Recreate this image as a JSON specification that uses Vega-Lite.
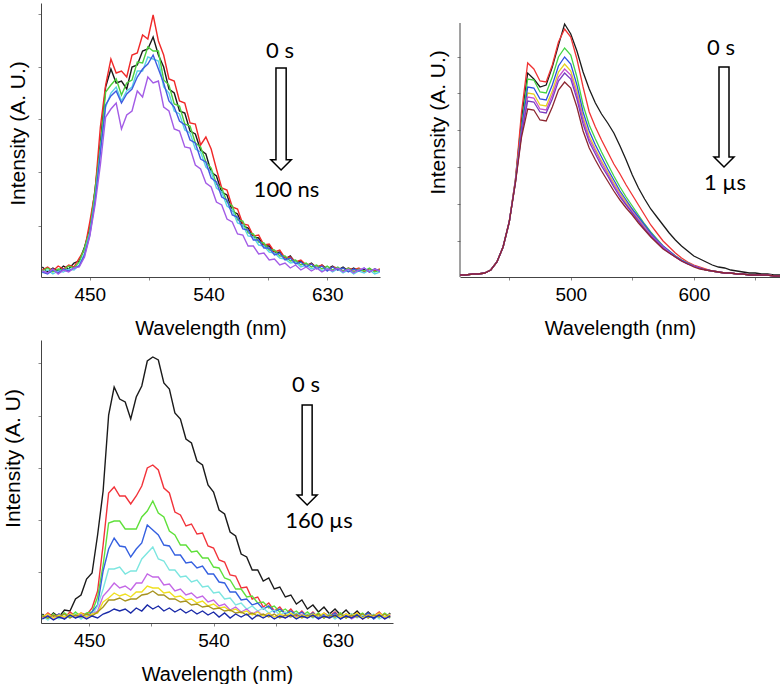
{
"$schema":"https://vega.github.io/schema/vega-lite/v6.json",
"padding":{"left":2,"top":3,"right":0,"bottom":0},
"config":{"view":{"stroke":null},"font":"Liberation Sans",
"axis":{"grid":false,"domainColor":"#444","tickColor":"#888","tickSize":3,"labelFont":"Liberation Sans Narrow, Liberation Sans","labelFontSize":19,"labelColor":"#000","labelPadding":5,"titleFont":"Liberation Sans","titleFontWeight":"normal","titleFontSize":20,"titleColor":"#000","titlePadding":14}},
"datasets":{
"p1":[
{"w":414,"k":10,"r":7,"g":6,"c":4,"b":5,"v":6},
{"w":418,"k":5,"r":10,"g":9,"c":7,"b":3,"v":4},
{"w":422,"k":9,"r":6,"g":5,"c":3,"b":7,"v":8},
{"w":426,"k":6,"r":11,"g":8,"c":6,"b":4,"v":3},
{"w":430,"k":11,"r":8,"g":7,"c":5,"b":8,"v":7},
{"w":434,"k":8,"r":12,"g":11,"c":8,"b":6,"v":5},
{"w":438,"k":14,"r":10,"g":9,"c":7,"b":9,"v":9},
{"w":442,"k":16,"r":19,"g":15,"c":12,"b":11,"v":10},
{"w":446,"k":30,"r":27,"g":29,"c":24,"b":22,"v":20},
{"w":450,"k":48,"r":55,"g":46,"c":44,"b":42,"v":41},
{"w":454,"k":88,"r":86,"g":86,"c":78,"b":76,"v":72},
{"w":458,"k":134,"r":150,"g":130,"c":126,"b":124,"v":112},
{"w":462,"k":190,"r":192,"g":185,"c":170,"b":172,"v":160},
{"w":466,"k":208,"r":218,"g":192,"c":184,"b":181,"v":168},
{"w":470,"k":194,"r":204,"g":198,"c":190,"b":186,"v":174},
{"w":474,"k":196,"r":206,"g":182,"c":176,"b":174,"v":148},
{"w":478,"k":188,"r":200,"g":194,"c":186,"b":183,"v":162},
{"w":482,"k":210,"r":222,"g":197,"c":190,"b":188,"v":166},
{"w":486,"k":212,"r":224,"g":215,"c":206,"b":200,"v":186},
{"w":490,"k":226,"r":242,"g":214,"c":206,"b":208,"v":180},
{"w":494,"k":228,"r":238,"g":230,"c":220,"b":213,"v":200},
{"w":498,"k":240,"r":262,"g":226,"c":218,"b":222,"v":194},
{"w":502,"k":222,"r":236,"g":226,"c":216,"b":208,"v":196},
{"w":506,"k":210,"r":222,"g":197,"c":190,"b":194,"v":170},
{"w":510,"k":188,"r":198,"g":192,"c":184,"b":176,"v":166},
{"w":514,"k":184,"r":196,"g":173,"c":166,"b":170,"v":148},
{"w":518,"k":166,"r":176,"g":171,"c":163,"b":156,"v":146},
{"w":522,"k":164,"r":174,"g":153,"c":147,"b":152,"v":130},
{"w":526,"k":146,"r":154,"g":151,"c":144,"b":137,"v":129},
{"w":530,"k":143,"r":153,"g":134,"c":128,"b":134,"v":112},
{"w":534,"k":127,"r":132,"g":130,"c":125,"b":118,"v":108},
{"w":538,"k":123,"r":140,"g":115,"c":110,"b":115,"v":94},
{"w":542,"k":105,"r":128,"g":109,"c":105,"b":99,"v":90},
{"w":546,"k":101,"r":108,"g":93,"c":89,"b":95,"v":75},
{"w":550,"k":85,"r":89,"g":89,"c":85,"b":80,"v":72},
{"w":554,"k":82,"r":87,"g":75,"c":71,"b":77,"v":58},
{"w":558,"k":66,"r":70,"g":71,"c":67,"b":62,"v":55},
{"w":562,"k":63,"r":68,"g":57,"c":54,"b":60,"v":43},
{"w":566,"k":51,"r":53,"g":56,"c":52,"b":48,"v":42},
{"w":570,"k":49,"r":52,"g":44,"c":41,"b":47,"v":31},
{"w":574,"k":40,"r":41,"g":43,"c":40,"b":37,"v":31},
{"w":578,"k":39,"r":42,"g":35,"c":32,"b":37,"v":23},
{"w":582,"k":31,"r":32,"g":34,"c":31,"b":29,"v":24},
{"w":586,"k":31,"r":33,"g":27,"c":25,"b":29,"v":17},
{"w":590,"k":24,"r":25,"g":27,"c":24,"b":22,"v":18},
{"w":594,"k":25,"r":27,"g":21,"c":19,"b":24,"v":12},
{"w":598,"k":18,"r":19,"g":21,"c":18,"b":17,"v":14},
{"w":602,"k":21,"r":20,"g":16,"c":14,"b":19,"v":9},
{"w":606,"k":14,"r":15,"g":17,"c":15,"b":13,"v":12},
{"w":610,"k":16,"r":17,"g":12,"c":10,"b":15,"v":7},
{"w":614,"k":11,"r":12,"g":14,"c":12,"b":10,"v":10},
{"w":618,"k":14,"r":13,"g":10,"c":8,"b":13,"v":6},
{"w":622,"k":9,"r":10,"g":12,"c":10,"b":8,"v":9},
{"w":626,"k":12,"r":12,"g":8,"c":6,"b":11,"v":5},
{"w":630,"k":8,"r":7,"g":11,"c":9,"b":6,"v":8},
{"w":634,"k":11,"r":10,"g":7,"c":5,"b":10,"v":6},
{"w":638,"k":7,"r":9,"g":10,"c":8,"b":7,"v":9},
{"w":642,"k":10,"r":6,"g":6,"c":4,"b":9,"v":5},
{"w":646,"k":6,"r":9,"g":9,"c":7,"b":5,"v":8},
{"w":650,"k":9,"r":7,"g":5,"c":3,"b":8,"v":4},
{"w":654,"k":6,"r":9,"g":8,"c":6,"b":6,"v":7},
{"w":658,"k":8,"r":5,"g":6,"c":4,"b":9,"v":9},
{"w":662,"k":5,"r":8,"g":9,"c":7,"b":5,"v":5},
{"w":666,"k":8,"r":6,"g":5,"c":3,"b":8,"v":8},
{"w":670,"k":6,"r":8,"g":7,"c":5,"b":6,"v":6}
],
"p2":[
{"w":410,"k":2,"r":2,"g":2,"y":2,"b":2,"p":2,"m":2,"n":2},
{"w":415,"k":2,"r":2,"g":2,"y":2,"b":2,"p":2,"m":2,"n":2},
{"w":420,"k":3,"r":3,"g":3,"y":3,"b":3,"p":3,"m":3,"n":3},
{"w":425,"k":3,"r":3,"g":3,"y":3,"b":3,"p":3,"m":3,"n":3},
{"w":430,"k":4,"r":4,"g":4,"y":4,"b":4,"p":4,"m":4,"n":4},
{"w":435,"k":7,"r":7,"g":7,"y":7,"b":7,"p":7,"m":7,"n":7},
{"w":440,"k":15,"r":15,"g":15,"y":15,"b":15,"p":15,"m":15,"n":15},
{"w":445,"k":30,"r":30,"g":30,"y":30,"b":30,"p":30,"m":30,"n":30},
{"w":450,"k":55,"r":55,"g":55,"y":55,"b":55,"p":55,"m":55,"n":55},
{"w":455,"k":97,"r":97,"g":95,"y":95,"b":95,"p":94,"m":95,"n":94},
{"w":460,"k":158,"r":165,"g":150,"y":146,"b":148,"p":143,"m":144,"n":140},
{"w":465,"k":204,"r":214,"g":198,"y":184,"b":190,"p":176,"m":180,"n":168},
{"w":470,"k":198,"r":208,"g":197,"y":183,"b":189,"p":175,"m":179,"n":167},
{"w":475,"k":190,"r":196,"g":185,"y":172,"b":178,"p":165,"m":168,"n":157},
{"w":480,"k":192,"r":195,"g":184,"y":171,"b":177,"p":164,"m":167,"n":156},
{"w":485,"k":210,"r":212,"g":200,"y":186,"b":192,"p":178,"m":182,"n":170},
{"w":490,"k":232,"r":235,"g":220,"y":205,"b":211,"p":196,"m":200,"n":187},
{"w":495,"k":253,"r":248,"g":229,"y":213,"b":220,"p":204,"m":208,"n":195},
{"w":500,"k":243,"r":240,"g":222,"y":206,"b":213,"p":198,"m":202,"n":189},
{"w":505,"k":226,"r":218,"g":200,"y":186,"b":192,"p":178,"m":182,"n":170},
{"w":510,"k":205,"r":190,"g":172,"y":160,"b":165,"p":153,"m":157,"n":146},
{"w":515,"k":188,"r":165,"g":152,"y":141,"b":146,"p":135,"m":138,"n":129},
{"w":520,"k":174,"r":150,"g":138,"y":128,"b":132,"p":123,"m":126,"n":117},
{"w":525,"k":163,"r":137,"g":125,"y":116,"b":120,"p":111,"m":114,"n":106},
{"w":530,"k":154,"r":125,"g":113,"y":105,"b":108,"p":101,"m":103,"n":96},
{"w":535,"k":144,"r":113,"g":101,"y":94,"b":97,"p":90,"m":92,"n":86},
{"w":540,"k":131,"r":103,"g":90,"y":84,"b":86,"p":80,"m":82,"n":77},
{"w":545,"k":117,"r":92,"g":80,"y":75,"b":77,"p":72,"m":73,"n":69},
{"w":550,"k":102,"r":82,"g":71,"y":67,"b":68,"p":64,"m":65,"n":62},
{"w":555,"k":89,"r":72,"g":62,"y":58,"b":60,"p":56,"m":57,"n":54},
{"w":560,"k":78,"r":62,"g":53,"y":50,"b":52,"p":48,"m":49,"n":47},
{"w":565,"k":68,"r":52,"g":45,"y":43,"b":44,"p":41,"m":42,"n":40},
{"w":570,"k":60,"r":44,"g":38,"y":36,"b":37,"p":35,"m":36,"n":34},
{"w":575,"k":52,"r":36,"g":31,"y":30,"b":31,"p":29,"m":30,"n":28},
{"w":580,"k":44,"r":30,"g":26,"y":25,"b":26,"p":24,"m":25,"n":24},
{"w":585,"k":37,"r":24,"g":21,"y":21,"b":21,"p":20,"m":20,"n":20},
{"w":590,"k":31,"r":19,"g":17,"y":17,"b":17,"p":16,"m":16,"n":16},
{"w":595,"k":26,"r":15,"g":14,"y":14,"b":14,"p":13,"m":13,"n":13},
{"w":600,"k":21,"r":12,"g":11,"y":11,"b":11,"p":11,"m":11,"n":10},
{"w":605,"k":18,"r":10,"g":9,"y":9,"b":9,"p":9,"m":9,"n":8},
{"w":610,"k":15,"r":8,"g":7,"y":7,"b":7,"p":7,"m":7,"n":7},
{"w":615,"k":12,"r":6,"g":6,"y":6,"b":6,"p":6,"m":6,"n":6},
{"w":620,"k":10,"r":5,"g":5,"y":5,"b":5,"p":5,"m":5,"n":5},
{"w":625,"k":9,"r":4,"g":4,"y":4,"b":4,"p":4,"m":4,"n":4},
{"w":630,"k":7,"r":4,"g":4,"y":4,"b":4,"p":4,"m":4,"n":4},
{"w":635,"k":6,"r":3,"g":3,"y":3,"b":3,"p":3,"m":3,"n":3},
{"w":640,"k":5,"r":3,"g":3,"y":3,"b":3,"p":3,"m":3,"n":3},
{"w":645,"k":4,"r":2,"g":2,"y":2,"b":2,"p":2,"m":2,"n":2},
{"w":650,"k":4,"r":2,"g":2,"y":2,"b":2,"p":2,"m":2,"n":2},
{"w":655,"k":3,"r":2,"g":2,"y":2,"b":2,"p":2,"m":2,"n":2},
{"w":660,"k":3,"r":2,"g":2,"y":2,"b":2,"p":2,"m":2,"n":2},
{"w":665,"k":2,"r":1,"g":1,"y":1,"b":1,"p":1,"m":1,"n":1},
{"w":670,"k":2,"r":1,"g":1,"y":1,"b":1,"p":1,"m":1,"n":1}
],
"p3":[
{"w":416,"k":9,"r":5,"g":8,"b":4,"c":7,"m":5,"y":6,"o":7,"n":4},
{"w":420,"k":4,"r":10,"g":4,"b":8,"c":3,"m":8,"y":9,"o":5,"n":7},
{"w":424,"k":10,"r":6,"g":9,"b":5,"c":8,"m":4,"y":5,"o":8,"n":3},
{"w":428,"k":6,"r":9,"g":5,"b":9,"c":4,"m":7,"y":8,"o":6,"n":6},
{"w":432,"k":13,"r":5,"g":10,"b":4,"c":7,"m":5,"y":6,"o":9,"n":4},
{"w":436,"k":12,"r":11,"g":6,"b":8,"c":5,"m":9,"y":9,"o":5,"n":8},
{"w":440,"k":24,"r":7,"g":11,"b":5,"c":9,"m":6,"y":7,"o":8,"n":5},
{"w":444,"k":28,"r":10,"g":6,"b":9,"c":4,"m":8,"y":10,"o":6,"n":7},
{"w":448,"k":44,"r":8,"g":10,"b":6,"c":8,"m":5,"y":6,"o":9,"n":4},
{"w":452,"k":50,"r":15,"g":11,"b":11,"c":8,"m":9,"y":9,"o":7,"n":7},
{"w":456,"k":88,"r":32,"g":26,"b":18,"c":17,"m":12,"y":10,"o":11,"n":5},
{"w":460,"k":132,"r":78,"g":58,"b":52,"c":34,"m":27,"y":21,"o":16,"n":9},
{"w":464,"k":208,"r":130,"g":100,"b":74,"c":54,"m":33,"y":25,"o":23,"n":11},
{"w":468,"k":236,"r":136,"g":102,"b":85,"c":54,"m":40,"y":30,"o":23,"n":14},
{"w":472,"k":224,"r":127,"g":102,"b":77,"c":56,"m":35,"y":27,"o":25,"n":12},
{"w":476,"k":221,"r":127,"g":94,"b":76,"c":49,"m":37,"y":29,"o":22,"n":14},
{"w":480,"k":204,"r":119,"g":94,"b":66,"c":52,"m":33,"y":26,"o":24,"n":10},
{"w":484,"k":226,"r":127,"g":94,"b":74,"c":52,"m":40,"y":31,"o":24,"n":15},
{"w":488,"k":237,"r":137,"g":106,"b":80,"c":64,"m":40,"y":31,"o":28,"n":12},
{"w":492,"k":262,"r":155,"g":112,"b":98,"c":70,"m":49,"y":37,"o":29,"n":18},
{"w":496,"k":266,"r":158,"g":122,"b":93,"c":76,"m":46,"y":35,"o":32,"n":14},
{"w":500,"k":263,"r":153,"g":110,"b":88,"c":64,"m":46,"y":35,"o":28,"n":17},
{"w":504,"k":240,"r":135,"g":106,"b":78,"c":62,"m":38,"y":30,"o":28,"n":12},
{"w":508,"k":234,"r":130,"g":92,"b":77,"c":53,"m":39,"y":31,"o":24,"n":15},
{"w":512,"k":210,"r":111,"g":88,"b":68,"c":53,"m":32,"y":26,"o":24,"n":11},
{"w":516,"k":204,"r":108,"g":78,"b":68,"c":46,"m":34,"y":27,"o":21,"n":14},
{"w":520,"k":184,"r":97,"g":78,"b":60,"c":47,"m":28,"y":23,"o":22,"n":10},
{"w":524,"k":180,"r":99,"g":71,"b":61,"c":41,"m":30,"y":24,"o":18,"n":13},
{"w":528,"k":162,"r":89,"g":72,"b":55,"c":43,"m":25,"y":20,"o":19,"n":9},
{"w":532,"k":158,"r":90,"g":65,"b":57,"c":36,"m":27,"y":22,"o":16,"n":12},
{"w":536,"k":138,"r":77,"g":65,"b":49,"c":37,"m":21,"y":17,"o":17,"n":8},
{"w":540,"k":131,"r":75,"g":56,"b":49,"c":30,"m":23,"y":19,"o":14,"n":11},
{"w":544,"k":113,"r":63,"g":55,"b":41,"c":31,"m":17,"y":15,"o":15,"n":6},
{"w":548,"k":109,"r":61,"g":45,"b":40,"c":24,"m":19,"y":16,"o":12,"n":10},
{"w":552,"k":91,"r":48,"g":43,"b":31,"c":25,"m":13,"y":12,"o":13,"n":5},
{"w":556,"k":87,"r":47,"g":34,"b":31,"c":18,"m":16,"y":14,"o":10,"n":9},
{"w":560,"k":69,"r":35,"g":34,"b":23,"c":20,"m":11,"y":10,"o":11,"n":6},
{"w":564,"k":66,"r":36,"g":26,"b":24,"c":14,"m":14,"y":12,"o":8,"n":9},
{"w":568,"k":53,"r":24,"g":27,"b":18,"c":17,"m":9,"y":8,"o":10,"n":4},
{"w":572,"k":53,"r":26,"g":20,"b":20,"c":12,"m":12,"y":11,"o":7,"n":8},
{"w":576,"k":42,"r":16,"g":21,"b":14,"c":15,"m":7,"y":7,"o":9,"n":5},
{"w":580,"k":45,"r":20,"g":15,"b":17,"c":10,"m":10,"y":10,"o":6,"n":8},
{"w":584,"k":34,"r":12,"g":17,"b":11,"c":13,"m":6,"y":6,"o":9,"n":4},
{"w":588,"k":36,"r":16,"g":11,"b":14,"c":8,"m":9,"y":9,"o":5,"n":7},
{"w":592,"k":26,"r":9,"g":14,"b":9,"c":11,"m":5,"y":7,"o":8,"n":5},
{"w":596,"k":28,"r":14,"g":9,"b":12,"c":7,"m":8,"y":10,"o":6,"n":8},
{"w":600,"k":19,"r":7,"g":12,"b":8,"c":10,"m":6,"y":5,"o":9,"n":4},
{"w":604,"k":23,"r":12,"g":7,"b":11,"c":6,"m":9,"y":8,"o":5,"n":7},
{"w":608,"k":14,"r":6,"g":11,"b":6,"c":9,"m":5,"y":6,"o":8,"n":5},
{"w":612,"k":18,"r":11,"g":6,"b":10,"c":5,"m":8,"y":9,"o":6,"n":8},
{"w":616,"k":11,"r":5,"g":10,"b":5,"c":8,"m":4,"y":7,"o":9,"n":4},
{"w":620,"k":16,"r":10,"g":5,"b":9,"c":6,"m":7,"y":10,"o":5,"n":7},
{"w":624,"k":9,"r":7,"g":9,"b":6,"c":9,"m":5,"y":5,"o":8,"n":5},
{"w":628,"k":14,"r":11,"g":6,"b":10,"c":4,"m":8,"y":8,"o":6,"n":8},
{"w":632,"k":8,"r":5,"g":10,"b":4,"c":8,"m":6,"y":6,"o":9,"n":4},
{"w":636,"k":13,"r":9,"g":5,"b":8,"c":6,"m":9,"y":9,"o":5,"n":7},
{"w":640,"k":7,"r":6,"g":9,"b":5,"c":9,"m":4,"y":7,"o":8,"n":5},
{"w":644,"k":12,"r":10,"g":7,"b":9,"c":5,"m":7,"y":10,"o":6,"n":8},
{"w":648,"k":6,"r":4,"g":10,"b":6,"c":8,"m":5,"y":5,"o":9,"n":4},
{"w":652,"k":11,"r":9,"g":5,"b":10,"c":6,"m":8,"y":8,"o":5,"n":7},
{"w":656,"k":6,"r":7,"g":8,"b":4,"c":9,"m":6,"y":7,"o":8,"n":5},
{"w":660,"k":10,"r":11,"g":6,"b":8,"c":4,"m":9,"y":10,"o":6,"n":8},
{"w":664,"k":5,"r":5,"g":10,"b":6,"c":7,"m":4,"y":6,"o":9,"n":4},
{"w":668,"k":10,"r":8,"g":6,"b":9,"c":5,"m":7,"y":9,"o":5,"n":7}
]},
"columns":2,
"bounds":"flush",
"align":"each",
"spacing":{"column":67,"row":63},
"resolve":{"scale":{"x":"independent","y":"independent","color":"independent"}},
"concat":[
{"width":339,"height":274,
"encoding":{
"x":{"field":"w","type":"quantitative","scale":{"domain":[413,670],"nice":false,"zero":false},"axis":{"values":[450,495,540,585,630],"labelExpr":"datum.value % 90 == 0 ? datum.label : ''","title":"Wavelength (nm)"}},
"y":{"field":"h","type":"quantitative","scale":{"domain":[0,274],"nice":false},"axis":{"values":[51,105,158,210,263],"labels":false,"title":"Intensity (A. U.)","titleFontSize":21,"titlePadding":9,"titleY":130}}},
"layer":[
{"data":{"name":"p1"},"transform":[{"fold":["k","r","g","c","b","v"],"as":["s","h"]}],"mark":{"type":"line","strokeWidth":1.4,"clip":true},"encoding":{"color":{"field":"s","type":"nominal","scale":{"domain":["k","r","g","c","b","v"],"range":["#1a1a1a","#f02828","#4ccf3c","#5ad2e6","#3f5be0","#a35ce6"]},"legend":null}}},
{"data":{"values":[{"w":594.2,"h":219,"t":"0 s"},{"w":599.1,"h":80,"t":"100 ns"}]},"mark":{"type":"text","font":"Lato","fontSize":22,"baseline":"alphabetic","color":"#000"},"encoding":{"text":{"field":"t"}}},
{"data":{"values":[{"w":595,"h":158}]},"mark":{"type":"point","shape":"M-0.1,-1L0.1,-1L0.1,0.8L0.2,0.8L0,1L-0.2,0.8L-0.1,0.8Z","size":10404,"filled":true,"fill":"#fff","stroke":"#000","strokeWidth":1.5,"opacity":1}}
]},
{"width":320,"height":274,
"encoding":{
"x":{"field":"w","type":"quantitative","scale":{"domain":[410,670],"nice":false,"zero":false},"axis":{"values":[450,500,550,600,650],"labelExpr":"datum.value % 100 == 0 ? datum.label : ''","title":"Wavelength (nm)"}},
"y":{"field":"h","type":"quantitative","scale":{"domain":[0,274],"nice":false},"axis":{"values":[36,73,110,147,184,220],"labels":false,"domain":false,"title":"Intensity (A. U.)","titleFontSize":21,"titlePadding":8,"titleY":119}}},
"layer":[
{"data":{"values":[{"w":410,"h":0,"h2":254}]},"mark":{"type":"rule","color":"#444","strokeWidth":1},"encoding":{"y2":{"field":"h2"}}},
{"data":{"name":"p2"},"transform":[{"fold":["k","r","g","y","b","m","p","n"],"as":["s","h"]}],"mark":{"type":"line","strokeWidth":1.3,"clip":true},"encoding":{"color":{"field":"s","type":"nominal","scale":{"domain":["k","r","g","y","b","m","p","n"],"range":["#1a1a1a","#f03434","#44d444","#e6d21e","#2f4fe0","#c64fcf","#7a3cc0","#8c2630"]},"legend":null}}},
{"data":{"values":[{"w":622.1,"h":222,"t":"0 s"},{"w":625.3,"h":87,"t":"1 µs"}]},"mark":{"type":"text","font":"Lato","fontSize":22,"baseline":"alphabetic","color":"#000"},"encoding":{"text":{"field":"t"}}},
{"data":{"values":[{"w":624.5,"h":160}]},"mark":{"type":"point","shape":"M-0.1,-1L0.1,-1L0.1,0.8L0.2,0.8L0,1L-0.2,0.8L-0.1,0.8Z","size":10000,"filled":true,"fill":"#fff","stroke":"#000","strokeWidth":1.5,"opacity":1}}
]},
{"width":352,"height":283,
"encoding":{
"x":{"field":"w","type":"quantitative","scale":{"domain":[415,670],"nice":false,"zero":false},"axis":{"values":[450,495,540,585,630],"labelExpr":"datum.value % 90 == 0 ? datum.label : ''","title":"Wavelength (nm)"}},
"y":{"field":"h","type":"quantitative","scale":{"domain":[0,283],"nice":false},"axis":{"values":[51,103,155,207,260],"labels":false,"title":"Intensity (A. U)","titleFontSize":21,"titlePadding":14,"titleY":118}}},
"layer":[
{"data":{"name":"p3"},"transform":[{"fold":["k","r","g","b","c","m","y","o","n"],"as":["s","h"]}],"mark":{"type":"line","strokeWidth":1.4,"clip":true},"encoding":{"color":{"field":"s","type":"nominal","scale":{"domain":["k","r","g","b","c","m","y","o","n"],"range":["#1a1a1a","#f2333a","#5fe03a","#3560e0","#7de6e0","#c468e6","#f0e020","#a89420","#1a2aa8"]},"legend":null}}},
{"data":{"values":[{"w":607,"h":231,"t":"0 s"},{"w":616.4,"h":95,"t":"160 µs"}]},"mark":{"type":"text","font":"Lato","fontSize":22,"baseline":"alphabetic","color":"#000"},"encoding":{"text":{"field":"t"}}},
{"data":{"values":[{"w":607.8,"h":168}]},"mark":{"type":"point","shape":"M-0.1,-1L0.1,-1L0.1,0.8L0.2,0.8L0,1L-0.2,0.8L-0.1,0.8Z","size":10000,"filled":true,"fill":"#fff","stroke":"#000","strokeWidth":1.5,"opacity":1}}
]}
]}
